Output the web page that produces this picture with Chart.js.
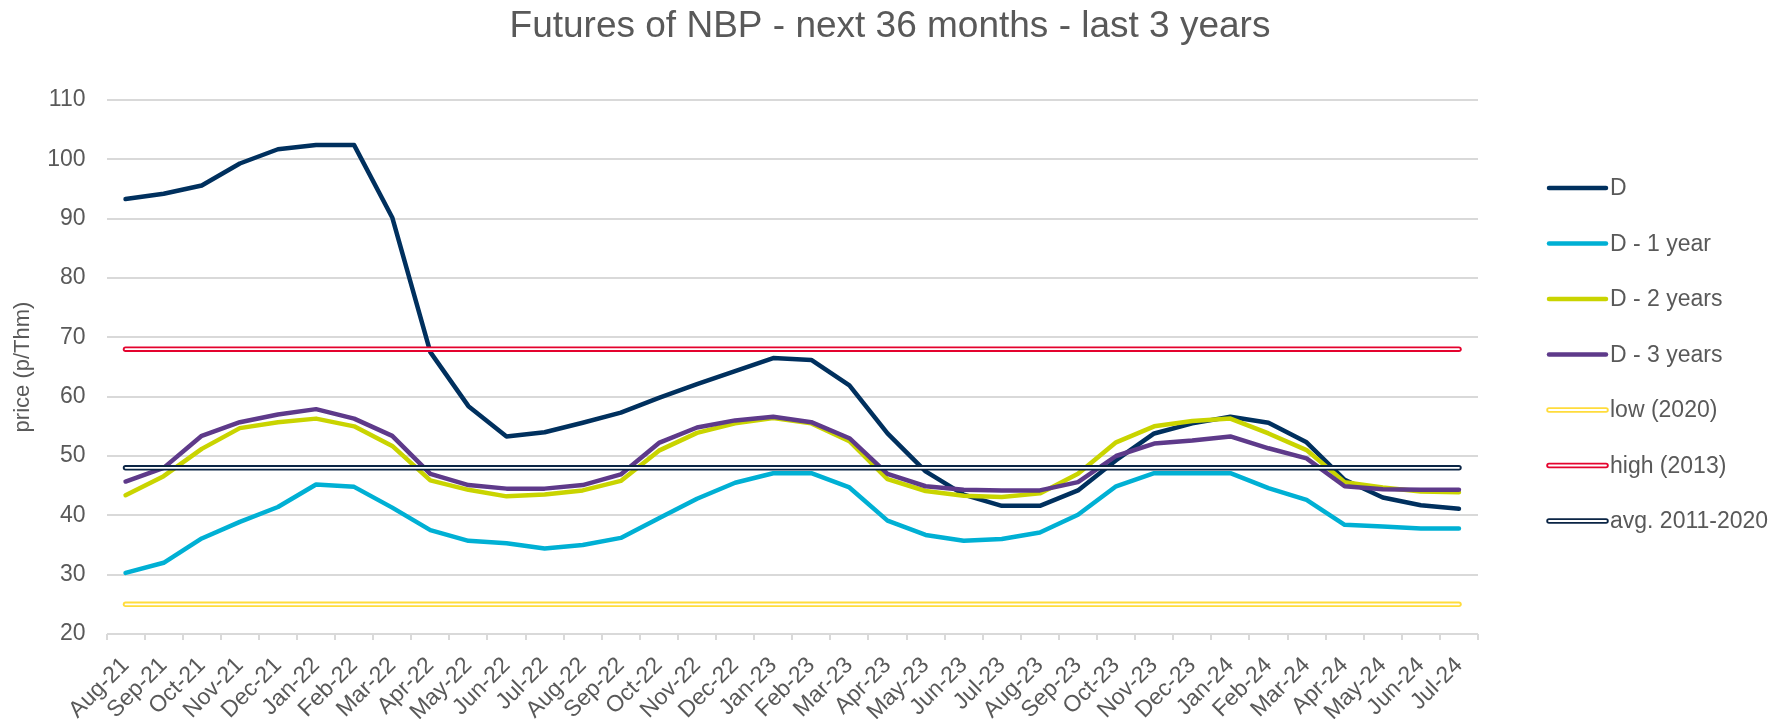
<!DOCTYPE html>
<html>
<head>
<meta charset="utf-8">
<script src="https://cdn.jsdelivr.net/npm/chart.js@4.4.1/dist/chart.umd.min.js"></script>
<style>
  html, body { margin: 0; padding: 0; background: #ffffff; }
  #wrap { width: 1780px; height: 719px; }
</style>
</head>
<body>
<div id="wrap"><canvas id="c" width="1780" height="719"></canvas></div>
<script>
// ---- data ----
const categories = ['Aug-21','Sep-21','Oct-21','Nov-21','Dec-21','Jan-22','Feb-22','Mar-22','Apr-22','May-22','Jun-22','Jul-22',
  'Aug-22','Sep-22','Oct-22','Nov-22','Dec-22','Jan-23','Feb-23','Mar-23','Apr-23','May-23','Jun-23','Jul-23',
  'Aug-23','Sep-23','Oct-23','Nov-23','Dec-23','Jan-24','Feb-24','Mar-24','Apr-24','May-24','Jun-24','Jul-24'];

const seriesD = [93.3, 94.2, 95.6, 99.3, 101.7, 102.4, 102.4, 90.2, 67.5, 58.4, 53.3, 54.0,
  55.6, 57.3, 59.8, 62.1, 64.3, 66.5, 66.2, 61.9, 53.8, 47.4, 43.5, 41.6,
  41.6, 44.2, 49.3, 53.8, 55.5, 56.6, 55.6, 52.3, 46.0, 43.0, 41.7, 41.1];

const seriesD1 = [30.3, 32.0, 36.1, 38.9, 41.4, 45.2, 44.8, 41.3, 37.5, 35.7, 35.3, 34.4,
  35.0, 36.2, 39.5, 42.8, 45.5, 47.1, 47.1, 44.7, 39.1, 36.7, 35.7, 36.0,
  37.1, 40.1, 44.9, 47.1, 47.1, 47.1, 44.6, 42.6, 38.4, 38.1, 37.8, 37.8];

const seriesD2 = [43.4, 46.6, 51.2, 54.7, 55.7, 56.3, 55.0, 51.7, 45.9, 44.3, 43.2, 43.5,
  44.2, 45.8, 50.9, 53.9, 55.5, 56.4, 55.5, 52.5, 46.1, 44.1, 43.3, 43.1,
  43.7, 47.0, 52.3, 55.0, 55.9, 56.3, 53.8, 51.0, 45.6, 44.7, 44.0, 43.9];

const seriesD3 = [45.7, 48.0, 53.4, 55.7, 57.0, 57.9, 56.3, 53.4, 47.0, 45.1, 44.5, 44.5,
  45.1, 46.9, 52.2, 54.8, 56.0, 56.6, 55.7, 53.0, 47.0, 44.9, 44.3, 44.2,
  44.2, 45.6, 50.0, 52.1, 52.6, 53.3, 51.3, 49.6, 44.9, 44.4, 44.3, 44.3];

const seriesLabels = ['D', 'D - 1 year', 'D - 2 years', 'D - 3 years'];
const refLabels = ['low (2020)', 'high (2013)', 'avg. 2011-2020'];
const refValues = [25, 68, 48];
const yTicks = [20, 30, 40, 50, 60, 70, 80, 90, 100, 110];

// ---- styles ----
const FONT = "'Liberation Sans', Arial, sans-serif";
const TEXT = '#595959';
const GRID = '#d9d9d9';
const seriesColors = ['#00305E', '#00B0D4', '#C9D400', '#5E3A8A'];
const refColors = ['#FFDC3C', '#E4032E', '#0B2545'];

const seriesList = [seriesD, seriesD1, seriesD2, seriesD3];
const datasets = [];
seriesList.forEach((vals, i) => {
  datasets.push({
    label: seriesLabels[i], data: vals, borderColor: seriesColors[i], backgroundColor: seriesColors[i],
    borderWidth: 4.5, pointRadius: 0, tension: 0, borderCapStyle: 'round', borderJoinStyle: 'round',
    fill: false
  });
});
refValues.forEach((v, i) => {
  datasets.push({
    label: refLabels[i],
    data: [{x: categories[0], y: v}, {x: categories[categories.length - 1], y: v}],
    borderColor: refColors[i], backgroundColor: refColors[i],
    borderWidth: 5.5, pointRadius: 0, tension: 0, borderCapStyle: 'round', borderJoinStyle: 'round',
    fill: false, innerColor: '#ffffff', innerWidth: 1.8
  });
});
datasets.forEach((d, i) => { d.order = datasets.length - i; });

const doubleLine = {
  id: 'doubleLine',
  afterDatasetDraw(chart, args) {
    const ds = chart.data.datasets[args.index];
    if (!ds.innerColor) return;
    const pts = args.meta.data;
    const ctx = chart.ctx;
    ctx.save();
    ctx.beginPath();
    pts.forEach((p, i) => { if (i) ctx.lineTo(p.x, p.y); else ctx.moveTo(p.x, p.y); });
    ctx.strokeStyle = ds.innerColor;
    ctx.lineWidth = ds.innerWidth;
    ctx.lineCap = 'round';
    ctx.stroke();
    ctx.restore();
  }
};

const sideLegend = {
  id: 'sideLegend',
  afterDraw(chart, args, opts) {
    const ctx = chart.ctx;
    chart.data.datasets.forEach((ds, i) => {
      const y = opts.top + i * opts.step;
      ctx.save();
      ctx.beginPath();
      ctx.moveTo(opts.x0, y);
      ctx.lineTo(opts.x1, y);
      ctx.lineCap = 'round';
      ctx.strokeStyle = ds.borderColor;
      ctx.lineWidth = ds.borderWidth;
      ctx.stroke();
      if (ds.innerColor) {
        ctx.beginPath();
        ctx.moveTo(opts.x0, y);
        ctx.lineTo(opts.x1, y);
        ctx.strokeStyle = ds.innerColor;
        ctx.lineWidth = ds.innerWidth;
        ctx.stroke();
      }
      ctx.fillStyle = TEXT;
      ctx.font = opts.fontSize + 'px ' + FONT;
      ctx.textBaseline = 'middle';
      ctx.textAlign = 'left';
      ctx.fillText(ds.label, opts.textX, y + 1);
      ctx.restore();
    });
  }
};

new Chart(document.getElementById('c'), {
  type: 'line',
  data: { labels: categories, datasets: datasets },
  plugins: [doubleLine, sideLegend],
  options: {
    responsive: false,
    animation: false,
    layout: { padding: 0 },
    plugins: {
      legend: { display: false },
      tooltip: { enabled: false },
      title: {
        display: true,
        fullSize: true,
        text: 'Futures of NBP - next 36 months - last 3 years',
        color: TEXT,
        font: { family: FONT, size: 37, weight: 'normal' },
        padding: { top: 5, bottom: 50.6 }
      },
      sideLegend: { x0: 1549, x1: 1606, textX: 1610, top: 188, step: 55.5, fontSize: 23 }
    },
    scales: {
      x: {
        type: 'category',
        offset: true,
        grid: { display: true, offset: true, drawOnChartArea: false, drawTicks: true, tickLength: 6, color: GRID, lineWidth: 2 },
        border: { display: false },
        ticks: {
          color: TEXT, font: { family: FONT, size: 23 },
          minRotation: 45, maxRotation: 45, autoSkip: false, padding: 12
        },
        afterFit(scale) { scale.height = 85; }
      },
      y: {
        min: 20, max: 110,
        afterBuildTicks(scale) { scale.ticks = yTicks.map(v => ({ value: v })); },
        grid: { color: GRID, lineWidth: 2, drawTicks: false },
        border: { display: false },
        ticks: { color: TEXT, font: { family: FONT, size: 23 }, padding: 21 },
        title: {
          display: true, text: 'price (p/Thm)', color: TEXT,
          font: { family: FONT, size: 22 }, padding: { top: 10, bottom: 0 }
        },
        afterFit(scale) { scale.width = 106.5; }
      },
      legendSpace: {
        type: 'linear',
        position: 'right',
        display: true,
        grid: { display: false, drawOnChartArea: false },
        border: { display: false },
        ticks: { display: false },
        afterFit(scale) { scale.width = 302; }
      }
    }
  }
});
</script>
</body>
</html>
